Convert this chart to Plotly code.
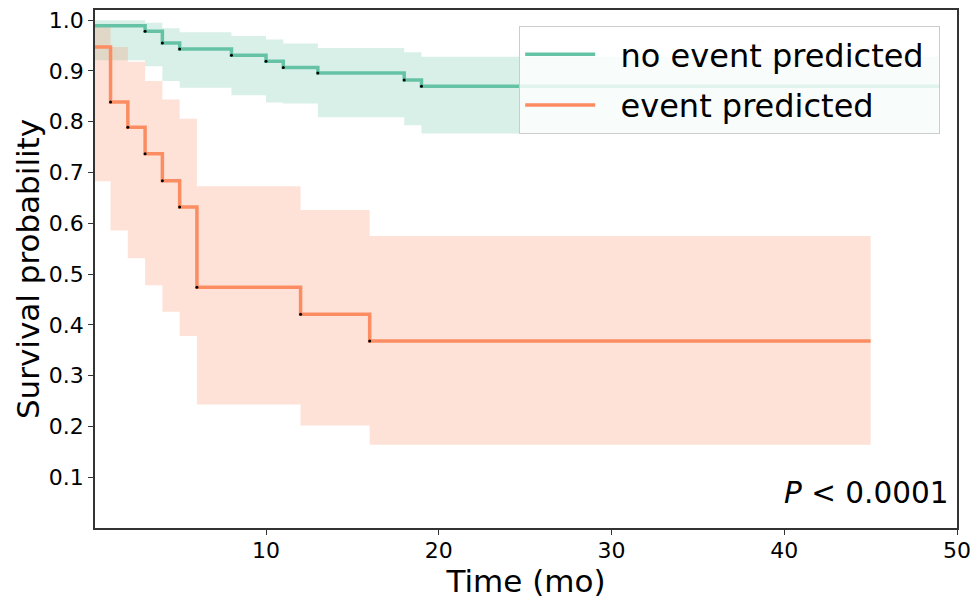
import plotly.graph_objects as go

# ---- data ----
no_event_t = [0, 3, 4, 5, 8, 10, 11, 13, 18, 19, 49]
no_event_s = [0.989, 0.978, 0.955, 0.943, 0.931, 0.919, 0.907, 0.896, 0.882, 0.870, 0.870]
no_event_lo = [0.921, 0.909, 0.880, 0.867, 0.852, 0.838, 0.836, 0.809, 0.793, 0.777, 0.777]
no_event_hi = [1.000, 0.995, 0.984, 0.976, 0.969, 0.962, 0.954, 0.945, 0.937, 0.928, 0.928]

event_t = [0, 1, 2, 3, 4, 5, 6, 12, 16, 45]
event_s = [0.947, 0.839, 0.789, 0.737, 0.684, 0.632, 0.474, 0.421, 0.368, 0.368]
event_lo = [0.683, 0.586, 0.531, 0.478, 0.426, 0.378, 0.243, 0.202, 0.164, 0.164]
event_hi = [0.992, 0.947, 0.918, 0.880, 0.844, 0.806, 0.673, 0.626, 0.575, 0.575]

x_ticks = [10, 20, 30, 40, 50]
y_ticks = [0.1, 0.2, 0.3, 0.4, 0.5, 0.6, 0.7, 0.8, 0.9, 1.0]

GREEN = "#66c2a5"
ORANGE = "#fc8d62"
FONT = "DejaVu Sans"
NB = "\u00a0\u00a0"

fig = go.Figure()


def add_band(t, lo, hi, fill, group):
    fig.add_trace(go.Scatter(x=t, y=lo, mode="lines", line=dict(width=0, shape="hv"),
                             showlegend=False, hoverinfo="skip", legendgroup=group))
    fig.add_trace(go.Scatter(x=t, y=hi, mode="lines", line=dict(width=0, shape="hv"),
                             fill="tonexty", fillcolor=fill, showlegend=False,
                             hoverinfo="skip", legendgroup=group))


add_band(no_event_t, no_event_lo, no_event_hi, "rgba(102,194,165,0.25)", "a")
add_band(event_t, event_lo, event_hi, "rgba(252,141,98,0.25)", "b")

fig.add_trace(go.Scatter(x=no_event_t, y=no_event_s, mode="lines",
                         line=dict(color=GREEN, width=3.5, shape="hv"),
                         name=NB + "no event predicted" + "\u00a0", legendgroup="a"))
fig.add_trace(go.Scatter(x=event_t, y=event_s, mode="lines",
                         line=dict(color=ORANGE, width=3.5, shape="hv"),
                         name=NB + "event predicted", legendgroup="b"))

# small event marks
fig.add_trace(go.Scatter(x=no_event_t[1:-1], y=no_event_s[1:-1], mode="markers",
                         marker=dict(color="black", size=3), showlegend=False,
                         hoverinfo="skip"))
fig.add_trace(go.Scatter(x=event_t[1:-1], y=event_s[1:-1], mode="markers",
                         marker=dict(color="black", size=3), showlegend=False,
                         hoverinfo="skip"))

fig.add_annotation(text="<i>P</i> &lt; 0.0001", xref="paper", yref="paper",
                   x=0.993, y=0.068, xanchor="right", yanchor="middle",
                   showarrow=False, font=dict(family=FONT, size=29.5, color="black"))

axis_common = dict(showline=True, mirror=True, linecolor="#333333", linewidth=1.5,
                   ticks="outside", ticklen=5, tickwidth=1.2, tickcolor="#333333",
                   showgrid=False, zeroline=False, automargin=False,
                   tickfont=dict(family=FONT, size=22, color="black"))

fig.update_layout(
    width=975, height=601,
    margin=dict(l=95, r=18, t=10, b=73),
    paper_bgcolor="white", plot_bgcolor="white",
    font=dict(family=FONT, color="black"),
    xaxis=dict(range=[0.1, 50], tickvals=x_ticks, ticklabelstandoff=-3,
               title=dict(text="Time (mo)", font=dict(family=FONT, size=31), standoff=0),
               **axis_common),
    yaxis=dict(range=[0.0, 1.02], tickvals=y_ticks, tickformat=".1f",
               title=dict(text="Survival probability", font=dict(family=FONT, size=31), standoff=0),
               **axis_common),
    legend=dict(x=0.9805, y=0.969, xanchor="right", yanchor="top",
                bgcolor="rgba(255,255,255,0.8)", bordercolor="#cccccc", borderwidth=1,
                font=dict(family=FONT, size=32, color="black"),
                itemwidth=70, tracegroupgap=6),
    showlegend=True,
)

fig.write_html("out.html")
